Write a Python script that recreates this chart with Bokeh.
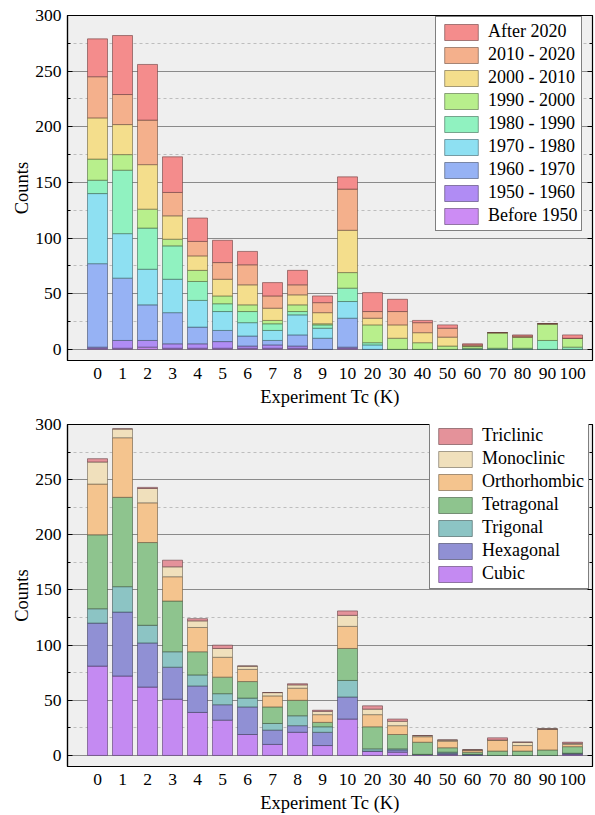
from bokeh.plotting import figure
from bokeh.models import Range1d, FixedTicker, LinearAxis, Legend, LegendItem, ColumnDataSource
from bokeh.layouts import column
from bokeh.embed import file_html
from bokeh.resources import INLINE

categories = ["0", "1", "2", "3", "4", "5", "6", "7", "8", "9",
              "10", "20", "30", "40", "50", "60", "70", "80", "90", "100"]

# ---- top chart: counts by publication period (stacked bottom -> top)
period_names = ["Before 1950", "1950 - 1960", "1960 - 1970", "1970 - 1980", "1980 - 1990",
                "1990 - 2000", "2000 - 2010", "2010 - 2020", "After 2020"]
before_1950 = [1, 1, 2, 1, 1, 1, 1, 1, 1, 0, 1, 0, 0, 0, 0, 0, 0, 0, 0, 0]
p1950_1960 = [1, 7, 6, 4, 4, 6, 2, 3, 2, 0, 1, 0, 0, 0, 0, 0, 0, 0, 0, 0]
p1960_1970 = [75, 56, 32, 28, 15, 10, 9, 4, 10, 10, 26, 0, 0, 0, 0, 0, 0, 0, 0, 0]
p1970_1980 = [63, 40, 32, 30, 24, 17, 12, 9, 18, 9, 15, 4, 0, 0, 0, 0, 0, 0, 0, 0]
p1980_1990 = [12, 57, 37, 30, 17, 7, 10, 6, 3, 3, 12, 2, 0, 0, 0, 1, 1, 1, 8, 2]
p1990_2000 = [19, 14, 17, 6, 10, 7, 6, 3, 6, 1, 14, 16, 10, 6, 3, 2, 14, 10, 15, 8]
p2000_2010 = [37, 27, 40, 21, 13, 15, 18, 11, 9, 10, 38, 6, 12, 9, 8, 0, 0, 0, 0, 0]
p2010_2020 = [37, 27, 40, 21, 13, 15, 18, 11, 9, 9, 37, 6, 12, 9, 8, 1, 0, 1, 0, 0]
after_2020 = [34, 53, 50, 32, 21, 20, 12, 12, 13, 6, 11, 17, 11, 2, 3, 1, 0, 1, 0, 3]
period_colors = ["#cc8cf4", "#b08cf4", "#96b2f4", "#8ee0f2", "#90f2c0",
                 "#b8ef8c", "#f4de8c", "#f4b08c", "#f48c8c"]

# ---- bottom chart: counts by crystal system (stacked bottom -> top)
system_names = ["Cubic", "Hexagonal", "Trigonal", "Tetragonal", "Orthorhombic", "Monoclinic", "Triclinic"]
cubic = [81, 72, 62, 51, 39, 32, 19, 10, 21, 9, 33, 4, 3, 1, 1, 0, 0, 0, 0, 1]
hexagonal = [39, 58, 40, 29, 24, 14, 25, 13, 6, 12, 20, 0, 2, 0, 1, 1, 0, 0, 0, 1]
trigonal = [13, 23, 16, 14, 10, 10, 8, 6, 9, 5, 15, 2, 1, 0, 1, 0, 0, 0, 0, 0]
tetragonal = [67, 81, 75, 46, 21, 15, 15, 15, 14, 4, 29, 20, 13, 11, 4, 2, 4, 4, 5, 6]
orthorhombic = [46, 54, 36, 22, 22, 18, 11, 10, 11, 7, 20, 11, 8, 5, 6, 2, 10, 5, 19, 2]
monoclinic = [20, 8, 13, 9, 6, 8, 3, 3, 3, 3, 10, 5, 4, 1, 1, 0, 0, 3, 0, 1]
triclinic = [3, 0, 1, 6, 2, 3, 0, 0, 1, 1, 4, 3, 2, 0, 0, 0, 2, 0, 0, 1]
system_colors = ["#c48af2", "#9090d4", "#8cc4c4", "#8ec48e", "#f4c48e", "#f0e0bc", "#e4929a"]

y_ticks = [0, 50, 100, 150, 200, 250, 300]
y_minor_ticks = [25, 75, 125, 175, 225, 275]

FONT = "Liberation Serif"


def darker(hex_color, f=0.45):
    r, g, b = (int(hex_color[i:i + 2], 16) for i in (1, 3, 5))
    return "#%02x%02x%02x" % (int(r * f), int(g * f), int(b * f))


def make_chart(series, names, colors, height, border_top, border_bottom, legend_loc):
    xs = list(range(len(categories)))
    data = {"x": xs}
    keys = []
    for i, s in enumerate(series):
        k = "s%d" % i
        data[k] = s
        keys.append(k)
    src = ColumnDataSource(data)

    p = figure(width=595, height=height, x_range=Range1d(-1.2, 19.8), y_range=Range1d(-10, 300),
               output_backend="svg", toolbar_location=None,
               min_border_left=67, min_border_right=3, min_border_top=border_top,
               min_border_bottom=border_bottom,
               background_fill_color="#efefef", border_fill_color="white",
               outline_line_color="black", outline_line_width=1.2)

    renderers = p.vbar_stack(keys, x="x", width=0.8, source=src, color=colors,
                             line_color=[darker(c) for c in colors], line_alpha=0.6, line_width=1)

    yticker = FixedTicker(ticks=y_ticks, minor_ticks=y_minor_ticks)
    p.yaxis.ticker = yticker
    p.ygrid.ticker = yticker
    p.ygrid.grid_line_color = "#8a8a8a"
    p.ygrid.grid_line_width = 1
    p.ygrid.minor_grid_line_color = "#bdbdbd"
    p.ygrid.minor_grid_line_dash = "3 3"
    p.xgrid.grid_line_color = None

    p.xaxis.ticker = FixedTicker(ticks=xs)
    p.xaxis.major_label_overrides = {i: c for i, c in enumerate(categories)}
    p.xaxis.major_tick_in = 0
    p.xaxis.major_tick_out = 0
    p.xaxis.minor_tick_in = 0
    p.xaxis.minor_tick_out = 0
    p.xaxis.major_label_standoff = 7
    p.xaxis.axis_label = "Experiment Tc (K)"
    p.xaxis.axis_label_standoff = 5

    p.yaxis.major_tick_in = 5
    p.yaxis.major_tick_out = 0
    p.yaxis.minor_tick_in = 3
    p.yaxis.minor_tick_out = 0
    p.yaxis.major_label_standoff = 6
    p.yaxis.axis_label = "Counts"
    p.yaxis.axis_label_standoff = 0

    for ax in (p.xaxis, p.yaxis):
        ax.axis_line_color = "black"
        ax.axis_line_width = 1.2
        ax.major_label_text_font = FONT
        ax.major_label_text_font_size = "17.5px"
        ax.major_label_text_color = "black"
        ax.axis_label_text_font = FONT
        ax.axis_label_text_font_size = "18.5px"
        ax.axis_label_text_font_style = "normal"
        ax.axis_label_text_color = "black"
        ax.major_tick_line_color = "black"
        ax.minor_tick_line_color = "black"

    right = LinearAxis(ticker=yticker, major_label_overrides={t: "" for t in y_ticks},
                       major_label_standoff=0,
                       major_tick_in=5, major_tick_out=0, minor_tick_in=3, minor_tick_out=0,
                       axis_line_color=None, major_tick_line_color="black",
                       minor_tick_line_color="black")
    p.add_layout(right, "right")

    items = [LegendItem(label=n, renderers=[r]) for n, r in zip(names, renderers)]
    items.reverse()
    legend = Legend(items=items, location=legend_loc, orientation="vertical",
                    label_text_font=FONT, label_text_font_size="18px", label_text_color="black",
                    glyph_width=42, glyph_height=20, label_height=20, label_standoff=6,
                    spacing=2, padding=4, margin=0,
                    border_line_color="black", border_line_width=1,
                    background_fill_color="white", background_fill_alpha=1.0)
    p.add_layout(legend)
    return p


p1 = make_chart([before_1950, p1950_1960, p1960_1970, p1970_1980, p1980_1990,
                 p1990_2000, p2000_2010, p2010_2020, after_2020],
                period_names, period_colors, 412, 15, 52, (368, 129))
p2 = make_chart([cubic, hexagonal, trigonal, tetragonal, orthorhombic, monoclinic, triclinic],
                system_names, system_colors, 403, 12, 46, (362, 177))

layout = column(p1, p2, spacing=0)
open("out.html", "w").write(file_html(layout, INLINE))
